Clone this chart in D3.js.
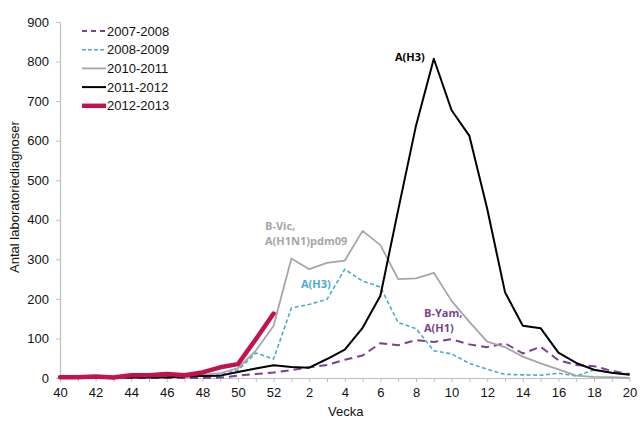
<!DOCTYPE html>
<html>
<head>
<meta charset="utf-8">
<script src="https://cdn.jsdelivr.net/npm/d3@7"></script>
<style>
  body { margin: 0; background: #fff; }
  svg { display: block; font-family: "Liberation Sans", Arial, sans-serif; }
  .note { font-family: "Open Sans", "DejaVu Sans", sans-serif; font-weight: bold; font-size: 11px; }
</style>
</head>
<body>
<div id="chart"></div>
<script>
// veckor 40-52 och 1-20
const weeks = [40, 41, 42, 43, 44, 45, 46, 47, 48, 49, 50, 51, 52,
    1, 2, 3, 4, 5, 6, 7, 8, 9, 10, 11, 12, 13, 14, 15, 16, 17, 18, 19, 20];

const s0708 = [0, 0, 0, 0, 0, 0, 0, 0, 0, 1, 6, 10, 14,
    20, 27, 33, 46, 57, 88, 83, 96, 91, 98, 85, 78, 88, 62, 79, 45, 33, 30, 18, 10];
const s0809 = [1, 1, 2, 2, 3, 3, 4, 7, 10, 8, 20, 63, 48,
    177, 186, 199, 275, 245, 230, 140, 125, 69, 61, 37, 22, 9, 8, 7, 12, 5, 20, 13, 10];
const s1011 = [1, 1, 2, 2, 3, 3, 4, 5, 8, 12, 25, 69, 132,
    302, 275, 291, 297, 372, 336, 250, 252, 266, 195, 142, 92, 78, 54, 37, 22, 6, 3, 2, 0];
const s1112 = [1, 1, 1, 1, 1, 1, 2, 4, 5, 6, 15, 24, 32,
    28, 26, 48, 72, 127, 208, 425, 638, 807, 677, 612, 428, 217, 132, 126, 64, 38, 21, 13, 8];
const s1213 = [2, 2, 4, 1, 7, 7, 10, 7, 14, 27, 35, 98, 163];

const seasons = ["2007-2008", "2008-2009", "2010-2011", "2011-2012", "2012-2013"];
const yTicks = [0, 100, 200, 300, 400, 500, 600, 700, 800, 900];

const styles = {
    "2007-2008": { color: "#7d3f8f", width: 2, dash: "8,5", legendDash: "5,4" },
    "2008-2009": { color: "#4bacc6", width: 1.6, dash: "4,2.5", legendDash: "4,2" },
    "2010-2011": { color: "#a6a6a6", width: 1.8, dash: null },
    "2011-2012": { color: "#000000", width: 2, dash: null },
    "2012-2013": { color: "#c4124c", width: 4.5, dash: null }
};
const values = {
    "2007-2008": s0708, "2008-2009": s0809, "2010-2011": s1011,
    "2011-2012": s1112, "2012-2013": s1213
};

const width = 640, height = 421;
const svg = d3.select("#chart").append("svg")
    .attr("width", width)
    .attr("height", height);

const x = d3.scalePoint().domain(weeks).range([60, 629.6]);
const y = d3.scaleLinear().domain([0, 900]).range([378, 22]);

// axlar
const yAxis = svg.append("g")
    .attr("transform", "translate(60,0)")
    .call(d3.axisLeft(y).tickValues(yTicks).tickSize(4).tickPadding(7).tickSizeOuter(0));
const xAxis = svg.append("g")
    .attr("transform", "translate(0,378)")
    .call(d3.axisBottom(x).tickSize(4).tickPadding(6).tickSizeOuter(0)
        .tickFormat(d => d % 2 === 0 ? d : ""));

[yAxis, xAxis].forEach(a => {
    a.select(".domain").attr("stroke", "#bfbfbf").attr("stroke-width", 1.2);
    a.selectAll(".tick line").attr("stroke", "#bfbfbf");
    a.selectAll(".tick text").attr("fill", "#111").style("font-size", "13px")
        .style("font-family", "'Liberation Sans', Arial, sans-serif");
});

svg.append("text")
    .attr("transform", "translate(19,197) rotate(-90)")
    .attr("text-anchor", "middle")
    .style("font-size", "13px")
    .attr("fill", "#111")
    .text("Antal laboratoriediagnoser");

svg.append("text")
    .attr("x", 328).attr("y", 416)
    .style("font-size", "13px")
    .attr("fill", "#111")
    .text("Vecka");

// linjer
const line = d3.line()
    .x((d, i) => x(weeks[i]))
    .y(d => y(d));

seasons.forEach(s => {
    const st = styles[s];
    svg.append("path")
        .datum(values[s])
        .attr("fill", "none")
        .attr("stroke", st.color)
        .attr("stroke-width", st.width)
        .attr("stroke-linejoin", "round")
        .attr("stroke-linecap", s === "2012-2013" ? "round" : "butt")
        .attr("stroke-dasharray", st.dash)
        .attr("d", line);
});

// legend
const legend = svg.append("g");
seasons.forEach((s, i) => {
    const st = styles[s];
    const ly = 31 + i * 18.7;
    legend.append("line")
        .attr("x1", 82).attr("x2", 106)
        .attr("y1", ly).attr("y2", ly)
        .attr("stroke", st.color)
        .attr("stroke-width", st.width)
        .attr("stroke-dasharray", st.legendDash || null);
    legend.append("text")
        .attr("x", 107).attr("y", ly)
        .attr("dy", "0.35em")
        .style("font-size", "13px")
        .attr("fill", "#111")
        .text(s);
});

// etiketter
const notes = [
    { lines: ["A(H3)"], x: 395, y: 61, color: "#000" },
    { lines: ["B-Vic,", "A(H1N1)pdm09"], x: 265, y: 230, color: "#a6a6a6" },
    { lines: ["A(H3)"], x: 301, y: 288, color: "#4bacc6" },
    { lines: ["B-Yam,", "A(H1)"], x: 424, y: 317, color: "#7d3f8f" }
];
notes.forEach(n => {
    const t = svg.append("text")
        .attr("class", "note")
        .attr("x", n.x).attr("y", n.y)
        .attr("fill", n.color);
    n.lines.forEach((l, i) => {
        t.append("tspan").attr("x", n.x).attr("dy", i === 0 ? 0 : 15).text(l);
    });
});
</script>
</body>
</html>
